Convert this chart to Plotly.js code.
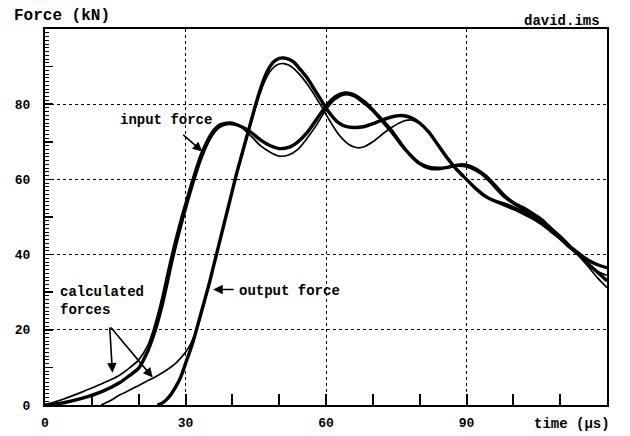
<!DOCTYPE html>
<html>
<head>
<meta charset="utf-8">
<script src="https://cdn.plot.ly/plotly-3.0.1.min.js"></script>
<style>html,body{margin:0;padding:0;background:#fff;}#chart{width:630px;height:436px;}</style>
</head>
<body>
<div id="chart"></div>
<script>
// ---- data (time in microseconds, force in kN) ----
var timeInput = [0,4,8,12,16,18,20,22,23,24,25,26,27,28,29,30,31,32,33,34,35,36,37,38,40,42,44,46,48,50,52,54,56,58,60,62,64,66,68,70,72,74,76,78,80,82,84,86,88,90,92,94,96,98,100,102,104,106,108,110,112,114,116,118,120];
var forceInput = [0,0.6,1.8,3.5,6,7.8,9.8,14.5,17.8,21.8,26.5,32,37.8,43,47.8,52.3,56.7,60.8,64.6,67.8,70.5,72.5,73.8,74.5,74.8,74,72.5,70.5,69,68.2,68.5,70,72.5,76,79.5,82,83,82.5,80.8,78.5,75.8,73,69.5,66.5,64.2,63,62.8,63.2,63.8,63.8,62.8,61,58.5,55.8,53.8,52.5,51,49.3,47,44.8,42.3,40.3,38.5,37.3,36.5];

var timeCalc1 = [0,4,8,10,12,14,16,18,20,22,23,24,25,26,27,28,29,30,31,32,33,34,35,36,37,38,40,42,44,46,48,50,52,54,56,58,60,62,64,66,68,70,72,74,76,78,80,82,84,86,88,90,92,94,96,98,100,102,104,106,108,110,112,114,116,118,120];
var forceCalc1 = [0,1.6,3.5,4.5,5.6,6.7,8,9.8,12,16,19.5,23.8,28.8,34.5,40,45,49.7,54,58.3,62.3,66,69,71.5,73.3,74.5,75,75.2,73.8,71.5,69,67.3,66.2,66.5,68,71,74.5,78.5,81.3,82.5,82,80.2,78,75.2,72.3,69,66.3,64.5,63.5,63.2,63.2,63.5,63.3,62.2,60.5,57.8,55.2,53.5,52,50.3,48.5,46.5,44.3,42,40,37.6,35.5,34.5];

var timeOutput = [24,25,26,27,28,29,30,31,32,33,34,35,36,37,38,39,40,41,42,43,44,45,46,47,48,49,50,51,52,53,54,55,56,57,58,59,60,61,62,63,64,66,68,70,72,74,76,78,80,82,84,86,88,90,92,94,96,98,100,102,104,106,108,110,112,114,116,118,120];
var forceOutput = [0,0.5,1.5,3,5,7.5,11,14.5,18.5,23,27.5,32,37,42,47,52,57,62,66.5,71,75.5,80,84,87.5,90,91.5,92.2,92.3,92,91.3,90,88.5,87,85,83,81,79,77.3,75.8,74.8,74.2,73.8,74,74.8,75.8,76.6,77,76.5,75,72.5,69,65.5,62.5,60,57.5,55.5,54.3,53.5,52.5,51.3,50,48.3,46.3,44.3,42,40,37.5,35.3,33];

var timeCalc2 = [12,14,16,18,20,22,24,26,28,30,31,32,33,34,35,36,37,38,39,40,41,42,43,44,45,46,47,48,49,50,51,52,53,54,55,56,57,58,59,60,61,62,63,64,65,66,67,68,70,72,74,76,78,80,82,84,86,88,90,92,94,96,98,100,102,104,106,108,110,112,114,116,118,120];
var forceCalc2 = [0,1.2,2.7,3.9,5.2,6.5,7.8,9.3,11.2,14,16,18.8,22.5,27,32,37,42,47,52,57,61.5,66,70.5,75,79.3,83.2,86.3,88.6,90,90.7,90.8,90.4,89.6,88.4,87,85.3,83.5,81.5,79.5,77.3,75.2,73.2,71.5,70.2,69.2,68.6,68.4,68.6,70,72,73.8,75.2,75.8,74.8,72.5,69.2,65.8,62.6,60,57.8,55.8,54.2,53,52,50.8,49.5,48,46.3,44.2,41.8,39.6,36.8,33.8,31.2];

var xTickVals = [0,30,60,90];
var xTickText = ['0','30','60','90'];
var yTickVals = [0,20,40,60,80];
var yTickText = ['0','20','40','60','80'];

// fine 1 kN tick positions for the left-axis comb
var yFineTicks = [];
for (var v = 1; v < 100; v += 1) { yFineTicks.push(v); }

// ---- styles ----
var FONT = 'Liberation Mono, Courier New, monospace';
var thick = {color:'#000', width:3.4, shape:'spline', smoothing:0.8};
var thin = {color:'#000', width:1.7, shape:'spline', smoothing:0.8};

var traces = [
  {x: timeCalc1, y: forceCalc1, mode:'lines', line: thin, name:'calculated force 1'},
  {x: timeCalc2, y: forceCalc2, mode:'lines', line: thin, name:'calculated force 2'},
  {x: timeInput, y: forceInput, mode:'lines', line: thick, name:'input force'},
  {x: timeOutput, y: forceOutput, mode:'lines', line: thick, name:'output force'}
];

var tf = {family: FONT, size: 13, color:'#000', weight:'bold'};
var af = {family: FONT, size: 14, color:'#000', weight:'bold'};

var layout = {
  width: 630, height: 436,
  margin: {l:45, r:23, t:29, b:31, pad:0},
  paper_bgcolor:'#fff', plot_bgcolor:'#fff',
  showlegend:false,
  title: {text:'Force (kN)', x:14/630, xanchor:'left', xref:'container', y:1-14/436, yanchor:'middle', yref:'container',
          font:{family:FONT, size:16, color:'#000', weight:'bold'}},
  xaxis: {
    range:[0,120], tickmode:'array', tickvals:xTickVals, ticktext:xTickText,
    ticks:'inside', ticklen:11, tickwidth:2, tickcolor:'#000',
    tickfont: tf, ticklabelstandoff: 4,
    showgrid:true, gridcolor:'#000', gridwidth:1, griddash:'dot',
    showline:true, linecolor:'#000', linewidth:2, mirror:true, zeroline:false,
    minor:{tickmode:'linear', tick0:0, dtick:10, ticks:'inside', ticklen:11, tickwidth:2, tickcolor:'#000', showgrid:false}
  },
  yaxis: {
    range:[0,100], tickmode:'array', tickvals:yTickVals, ticktext:yTickText,
    ticks:'inside', ticklen:8, tickwidth:1.5, tickcolor:'#000',
    tickfont: tf, ticklabelstandoff: 10,
    showgrid:true, gridcolor:'#000', gridwidth:1, griddash:'dot',
    showline:true, linecolor:'#000', linewidth:2, mirror:true, zeroline:false,
    minor:{tickmode:'array', tickvals:yFineTicks, ticks:'inside', ticklen:4, tickwidth:1, tickcolor:'#000', showgrid:false}
  },
  yaxis2: {
    range:[0,100], overlaying:'y', side:'left', anchor:'x',
    tickmode:'linear', tick0:0, dtick:10, ticks:'inside', ticklen:8, tickwidth:1.5, tickcolor:'#000',
    showticklabels:false, showgrid:false, zeroline:false, showline:false
  },
  annotations: [
    {text:'david.ims', xref:'paper', yref:'paper', x:1-5/562, y:1, xanchor:'right', yanchor:'bottom', yshift:-2,
     showarrow:false, font:af},
    {text:'time (μs)', xref:'paper', yref:'paper', x:1+5/562, y:0, xanchor:'right', yanchor:'top', yshift:-9,
     showarrow:false, font:af},
    {text:'input force', xref:'x', yref:'y', x:25.8, y:75.8, xanchor:'center', yanchor:'middle', showarrow:false, font:af},
    {text:'', xref:'x', yref:'y', x:33.6, y:67.4, axref:'x', ayref:'y', ax:29.2, ay:72.2,
     showarrow:true, arrowhead:2, arrowsize:1.2, arrowwidth:1.6, arrowcolor:'#000'},
    {text:'output force', xref:'x', yref:'y', x:41.0, y:30.2, xanchor:'left', yanchor:'middle', showarrow:false, font:af},
    {text:'', xref:'x', yref:'y', x:35.9, y:30.7, axref:'x', ayref:'y', ax:40.6, ay:30.7,
     showarrow:true, arrowhead:2, arrowsize:1.2, arrowwidth:1.6, arrowcolor:'#000'},
    {text:'calculated<br>forces', xref:'x', yref:'y', x:2.7, y:27.6, xanchor:'left', yanchor:'middle', align:'left',
     showarrow:false, font:af},
    {text:'', xref:'x', yref:'y', x:14.4, y:8.6, axref:'x', ayref:'y', ax:13.8, ay:21.0,
     showarrow:true, arrowhead:2, arrowsize:1.2, arrowwidth:1.6, arrowcolor:'#000'},
    {text:'', xref:'x', yref:'y', x:23.0, y:7.3, axref:'x', ayref:'y', ax:13.8, ay:21.0,
     showarrow:true, arrowhead:2, arrowsize:1.2, arrowwidth:1.6, arrowcolor:'#000'}
  ]
};

// invisible trace to activate the overlay axis carrying the 10 kN ticks
traces.push({x:[0], y:[0], yaxis:'y2', mode:'markers', marker:{opacity:0}, hoverinfo:'skip', showlegend:false});

Plotly.newPlot('chart', traces, layout, {staticPlot:true, displayModeBar:false});
</script>
</body>
</html>
